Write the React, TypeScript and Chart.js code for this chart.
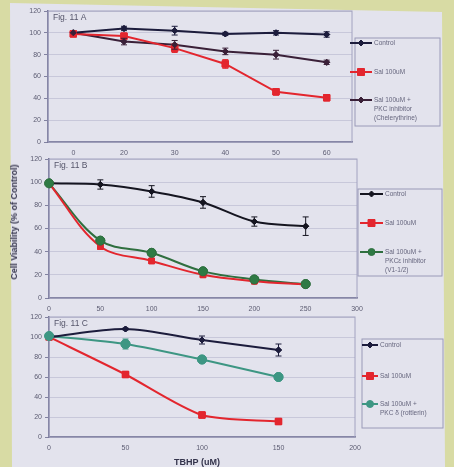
import React, { useEffect, useRef } from "react";
import { Chart, registerables } from "chart.js";
Chart.register(...registerables);

// ---------- data ----------
const A_LABELS = ["0", "20", "30", "40", "50", "60"];
const A_CONTROL = [100, 104, 102, 99, 100, 98.5];
const A_CONTROL_ERR = [0, 2, 4, 1.5, 2, 2.5];
const A_SAL = [99, 97, 86, 71.5, 46, 40.5];
const A_SAL_ERR = [0, 2, 4, 4, 3, 1];
const A_PKC = [100, 92, 89, 83, 80, 73];
const A_PKC_ERR = [0, 3, 4, 3, 4, 2];

const B_X = [0, 50, 100, 150, 200, 250];
const B_CONTROL = [99, 98, 92, 82.5, 66, 62];
const B_CONTROL_ERR = [0, 4, 5, 5, 4, 8];
const B_SAL = [99, 44.5, 32, 20, 14.5, 11.5];
const B_SAL_ERR = [0, 2, 2, 1, 1, 1];
const B_PKCE = [99, 49.5, 39, 23, 16, 12];
const B_PKCE_ERR = [0, 2, 2, 1, 1, 1];

const C_X = [0, 50, 100, 150];
const C_CONTROL = [100, 108, 97, 87];
const C_CONTROL_ERR = [0, 1, 4, 6];
const C_SAL = [100, 62.5, 22, 15.5];
const C_SAL_ERR = [0, 3, 2, 1];
const C_PKCD = [101, 93, 77.5, 60];
const C_PKCD_ERR = [0, 5, 2, 1];

const Y_TICKS = [0, 20, 40, 60, 80, 100, 120];

const LEGEND_A = ["Control", "Sal 100uM", "Sal 100uM +|PKC inhibitor|(Chelerythrine)"];
const LEGEND_B = ["Control", "Sal 100uM", "Sal 100uM +|PKCε inhibitor|(V1-1/2)"];
const LEGEND_C = ["Control", "Sal 100uM", "Sal 100uM +|PKC δ (rottlerin)"];

// ---------- style ----------
const W = 454;
const H = 467;
const FONT = "'Liberation Sans', Arial, sans-serif";
const NAVY = "#1c1c3c";
const RED = "#e3262e";
const DARKP = "#3a2038";
const GREEN = "#2f6f3f";
const TEAL = "#3d9683";
const TICK_C = "#5c5c72";

type Area = { left: number; top: number; right: number; bottom: number };
type Legend = {
  box: Area;
  s0: number;
  s1: number;
  tx: number;
  ys: number[];
};

function drawMarker(ctx: CanvasRenderingContext2D, style: string, x: number, y: number, r: number, fill: string, stroke: string) {
  ctx.save();
  ctx.fillStyle = fill;
  ctx.strokeStyle = stroke;
  ctx.lineWidth = 1;
  ctx.beginPath();
  if (style === "rect") {
    ctx.rect(x - r, y - r, 2 * r, 2 * r);
  } else if (style === "rectRot") {
    ctx.moveTo(x, y - r);
    ctx.lineTo(x + r, y);
    ctx.lineTo(x, y + r);
    ctx.lineTo(x - r, y);
    ctx.closePath();
  } else {
    ctx.arc(x, y, r, 0, Math.PI * 2);
  }
  ctx.fill();
  ctx.stroke();
  ctx.restore();
}

function makePanelPlugin(figLabel: string, errs: number[][], legend: Legend, legendTexts: string[]) {
  return {
    id: "panel_" + figLabel.replace(/\W/g, ""),
    beforeDatasetsDraw(chart: any) {
      const { ctx, chartArea: a } = chart;
      ctx.save();
      ctx.strokeStyle = "#a2a2c0";
      ctx.lineWidth = 1;
      ctx.strokeRect(a.left, a.top, a.right - a.left, a.bottom - a.top);
      ctx.restore();
    },
    afterDatasetsDraw(chart: any) {
      const { ctx } = chart;
      const ys = chart.scales.y;
      chart.data.datasets.forEach((ds: any, i: number) => {
        const meta = chart.getDatasetMeta(i);
        const e = errs[i];
        ctx.save();
        ctx.strokeStyle = ds.borderColor;
        ctx.lineWidth = 1;
        meta.data.forEach((el: any, j: number) => {
          const err = e[j];
          if (!err) return;
          const raw = ds.data[j];
          const v = typeof raw === "number" ? raw : raw.y;
          const y1 = ys.getPixelForValue(v + err);
          const y2 = ys.getPixelForValue(v - err);
          ctx.beginPath();
          ctx.moveTo(el.x, y1);
          ctx.lineTo(el.x, y2);
          ctx.moveTo(el.x - 3, y1);
          ctx.lineTo(el.x + 3, y1);
          ctx.moveTo(el.x - 3, y2);
          ctx.lineTo(el.x + 3, y2);
          ctx.stroke();
        });
        ctx.restore();
        // redraw points on top
        meta.data.forEach((el: any) => el.draw(ctx, chart.chartArea));
      });
    },
    afterDraw(chart: any) {
      const { ctx, chartArea: a } = chart;
      ctx.save();
      // fig label
      ctx.fillStyle = "#55556a";
      ctx.font = `8.5px ${FONT}`;
      ctx.textBaseline = "top";
      ctx.textAlign = "left";
      ctx.fillText(figLabel, a.left + 5, a.top + 2);
      // legend box
      const b = legend.box;
      ctx.strokeStyle = "#9a9ab8";
      ctx.lineWidth = 1;
      ctx.strokeRect(b.left, b.top, b.right - b.left, b.bottom - b.top);
      ctx.font = `6.5px ${FONT}`;
      ctx.textBaseline = "middle";
      chart.data.datasets.forEach((ds: any, i: number) => {
        const y = legend.ys[i];
        ctx.strokeStyle = ds.borderColor;
        ctx.lineWidth = 2;
        ctx.beginPath();
        ctx.moveTo(legend.s0, y);
        ctx.lineTo(legend.s1, y);
        ctx.stroke();
        drawMarker(ctx, ds.pointStyle, (legend.s0 + legend.s1) / 2, y, Math.min(ds.pointRadius, 3.5), ds.pointBackgroundColor, ds.pointBorderColor);
        ctx.fillStyle = "#66667e";
        legendTexts[i].split("|").forEach((t, k) => {
          ctx.fillText(t, legend.tx, y + k * 9);
        });
      });
      ctx.restore();
    },
  };
}

function ds(label: string, data: any[], color: string, style: string, radius: number, fill: string, tension: number) {
  return {
    label,
    data,
    borderColor: color,
    borderWidth: 2,
    pointStyle: style,
    pointRadius: radius,
    pointBackgroundColor: fill,
    pointBorderColor: color,
    pointBorderWidth: 1,
    tension,
    fill: false,
  };
}

function makeConfig(area: Area, xScale: any, datasets: any[], plugin: any) {
  const yAxisW = 30;
  const xAxisH = 20;
  return {
    type: "line",
    data: xScale.type === "category" ? { labels: A_LABELS, datasets } : { datasets },
    options: {
      responsive: false,
      animation: false,
      events: [],
      layout: {
        padding: {
          left: area.left - yAxisW,
          top: area.top,
          right: W - area.right,
          bottom: H - area.bottom - xAxisH,
        },
      },
      plugins: { legend: { display: false }, tooltip: { enabled: false } },
      scales: {
        x: {
          ...xScale,
          grid: { display: false, drawTicks: false },
          border: { display: true, color: "#6a6a8c", width: 1.5 },
          ticks: { ...(xScale.ticks || {}), color: TICK_C, font: { size: 7, family: FONT }, padding: 7, maxRotation: 0 },
          afterFit: (s: any) => {
            s.height = xAxisH;
          },
        },
        y: {
          min: 0,
          max: 120,
          afterBuildTicks: (s: any) => {
            s.ticks = Y_TICKS.map((v) => ({ value: v }));
          },
          grid: { color: "#c2c2d4", lineWidth: 0.8, tickLength: 4, tickColor: "#6a6a8c" },
          border: { display: true, color: "#6a6a8c", width: 1.5 },
          ticks: { color: TICK_C, font: { size: 7, family: FONT }, padding: 3 },
          afterFit: (s: any) => {
            s.width = yAxisW;
          },
        },
      },
    },
    plugins: [plugin],
  };
}

function xy(xs: number[], ys: number[]) {
  return xs.map((x, i) => ({ x, y: ys[i] }));
}

export default function App() {
  const refA = useRef<HTMLCanvasElement>(null);
  const refB = useRef<HTMLCanvasElement>(null);
  const refC = useRef<HTMLCanvasElement>(null);

  useEffect(() => {
    const charts: Chart[] = [];

    // Panel A
    const dsA = [
      ds("Control", A_CONTROL, NAVY, "rectRot", 3, NAVY, 0),
      ds("Sal 100uM", A_SAL, RED, "rect", 4.5, RED, 0),
      ds("Sal 100uM + PKC inhibitor", A_PKC, DARKP, "rectRot", 3, DARKP, 0),
    ];
    const plA = makePanelPlugin("Fig. 11 A", [A_CONTROL_ERR, A_SAL_ERR, A_PKC_ERR], {
      box: { left: 355, top: 38, right: 440, bottom: 126 },
      s0: 350, s1: 372, tx: 374, ys: [43, 72, 100],
    }, LEGEND_A);
    charts.push(new Chart(refA.current!, makeConfig({ left: 48, top: 11, right: 352, bottom: 142 }, { type: "category", offset: true }, dsA, plA) as any));

    // Panel B
    const dsB = [
      ds("Control", xy(B_X, B_CONTROL), "#151520", "rectRot", 3, "#151520", 0.35),
      ds("Sal 100uM", xy(B_X, B_SAL), RED, "rect", 4, RED, 0.35),
      ds("Sal 100uM + PKCε inhibitor", xy(B_X, B_PKCE), GREEN, "circle", 4.5, "#2e7a44", 0.35),
    ];
    const plB = makePanelPlugin("Fig. 11 B", [B_CONTROL_ERR, B_SAL_ERR, B_PKCE_ERR], {
      box: { left: 358, top: 189, right: 442, bottom: 276 },
      s0: 360, s1: 383, tx: 385, ys: [194, 223, 252],
    }, LEGEND_B);
    charts.push(new Chart(refB.current!, makeConfig({ left: 49, top: 159, right: 357, bottom: 298 }, { type: "linear", min: 0, max: 300, ticks: { stepSize: 50 } }, dsB, plB) as any));

    // Panel C
    const dsC = [
      ds("Control", xy(C_X, C_CONTROL), NAVY, "rectRot", 3, NAVY, 0.3),
      ds("Sal 100uM", xy(C_X, C_SAL), RED, "rect", 4.5, RED, 0.25),
      ds("Sal 100uM + PKC δ (rottlerin)", xy(C_X, C_PKCD), TEAL, "circle", 4.5, TEAL, 0.2),
    ];
    const plC = makePanelPlugin("Fig. 11 C", [C_CONTROL_ERR, C_SAL_ERR, C_PKCD_ERR], {
      box: { left: 362, top: 339, right: 443, bottom: 428 },
      s0: 362, s1: 378, tx: 380, ys: [345, 376, 404],
    }, LEGEND_C);
    charts.push(new Chart(refC.current!, makeConfig({ left: 49, top: 317, right: 355, bottom: 437 }, { type: "linear", min: 0, max: 200, ticks: { stepSize: 50 } }, dsC, plC) as any));

    return () => charts.forEach((c) => c.destroy());
  }, []);

  const cv: React.CSSProperties = { position: "absolute", left: 0, top: 0, width: W, height: H };
  return (
    <div style={{ position: "fixed", left: 0, top: 0, width: W, height: H, background: "#d8dba4", overflow: "hidden" }}>
      <div
        style={{
          position: "absolute", left: 0, top: 0, width: W, height: H,
          background: "#e3e3ed",
          clipPath: "polygon(10px 3px, 442px 12px, 445px 467px, 12px 467px)",
        }}
      />
      <canvas ref={refA} width={W} height={H} style={cv} />
      <canvas ref={refB} width={W} height={H} style={cv} />
      <canvas ref={refC} width={W} height={H} style={cv} />
      <div
        style={{
          position: "absolute", left: 14, top: 222, transform: "translate(-50%, -50%) rotate(-90deg)",
          font: `bold 9px ${FONT}`, color: "#34344c", whiteSpace: "nowrap",
        }}
      >
        Cell Viability (% of Control)
      </div>
      <div
        style={{
          position: "absolute", left: 197, top: 462, transform: "translate(-50%, -50%)",
          font: `bold 9px ${FONT}`, color: "#34344c", whiteSpace: "nowrap",
        }}
      >
        TBHP (uM)
      </div>
    </div>
  );
}
